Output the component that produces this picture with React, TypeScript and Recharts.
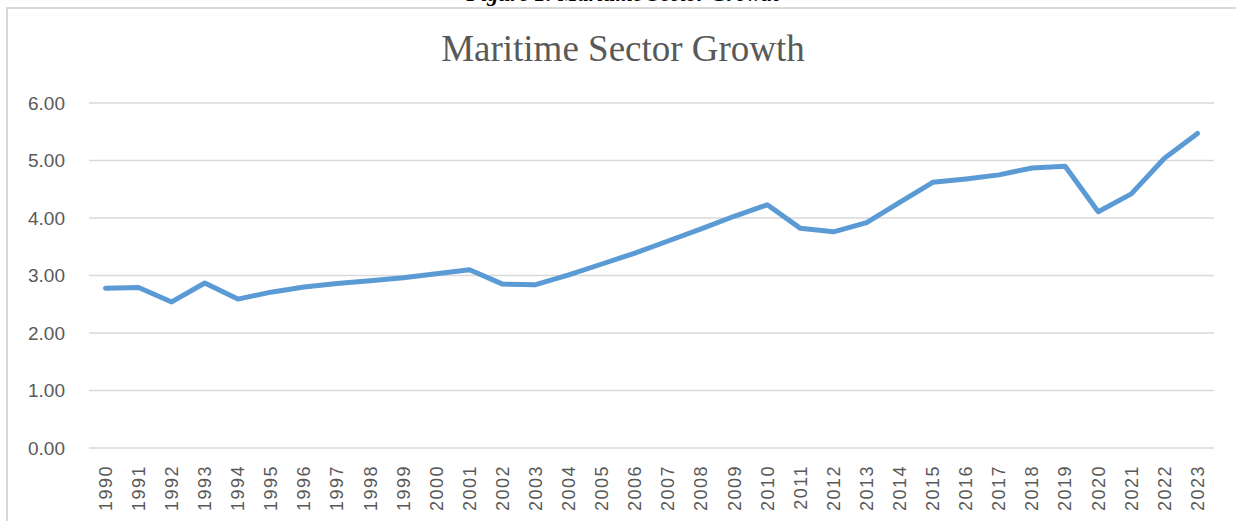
import React from 'react';
import { LineChart, Line, XAxis, YAxis, CartesianGrid } from 'recharts';

const years = [
  '1990', '1991', '1992', '1993', '1994', '1995', '1996', '1997', '1998', '1999',
  '2000', '2001', '2002', '2003', '2004', '2005', '2006', '2007', '2008', '2009',
  '2010', '2011', '2012', '2013', '2014', '2015', '2016', '2017', '2018', '2019',
  '2020', '2021', '2022', '2023',
];

const growth = [
  2.78, 2.79, 2.54, 2.87, 2.59, 2.71, 2.80, 2.86, 2.91, 2.96,
  3.03, 3.10, 2.85, 2.84, 3.01, 3.20, 3.39, 3.60, 3.81, 4.03,
  4.23, 3.82, 3.76, 3.92, 4.27, 4.62, 4.68, 4.75, 4.87, 4.90,
  4.11, 4.42, 5.04, 5.47,
];

const yTicks = [0, 1, 2, 3, 4, 5, 6];

const data = years.map((year, i) => ({ year, value: growth[i] }));

const labelColor = '#595959';
const axisFont = '"Liberation Sans", Arial, sans-serif';

const YTick = (props: any) => {
  const { y, payload } = props;
  return (
    <text x={65} y={y} dy="0.35em" textAnchor="end" fontSize={19} fill={labelColor} fontFamily={axisFont}>
      {Number(payload.value).toFixed(2)}
    </text>
  );
};

const XTick = (props: any) => {
  const { x, payload } = props;
  return (
    <text
      transform={`translate(${x},465) rotate(-90)`}
      dy="0.35em"
      textAnchor="end"
      fontSize={18}
      letterSpacing={1.5}
      fill={labelColor}
      fontFamily={axisFont}
    >
      {payload.value}
    </text>
  );
};

export default function App() {
  return (
    <div style={{ position: 'absolute', left: 0, top: 0, width: 1236, height: 521, overflow: 'hidden', background: '#fff' }}>
      <div
        style={{
          position: 'absolute', left: 6, top: 7, width: 1260, height: 540,
          border: '2px solid #d9d9d9', boxSizing: 'border-box',
        }}
      />
      <div
        style={{
          position: 'absolute', left: 0, top: -19, width: 1246, textAlign: 'center',
          fontFamily: '"Liberation Serif", "Times New Roman", serif', fontSize: 22, fontWeight: 'bold',
          fontStyle: 'italic', color: '#000',
        }}
      >
        Figure 1: Maritime Sector Growth
      </div>
      <div
        style={{
          position: 'absolute', left: 0, top: 27, width: 1246, textAlign: 'center',
          fontFamily: '"Liberation Serif", "Times New Roman", serif', fontSize: 37, color: labelColor,
        }}
      >
        Maritime Sector Growth
      </div>
      <div style={{ position: 'absolute', left: 0, top: 0 }}>
        <LineChart width={1236} height={521} data={data} margin={{ top: 103, right: 22, left: 0, bottom: 0 }}>
          <CartesianGrid vertical={false} stroke="#d9d9d9" strokeWidth={1.5} />
          <XAxis
            dataKey="year"
            interval={0}
            axisLine={false}
            tickLine={false}
            height={73}
            padding={{ left: 16.5, right: 16.5 }}
            tick={<XTick />}
          />
          <YAxis
            domain={[0, 6]}
            ticks={yTicks}
            axisLine={false}
            tickLine={false}
            width={89}
            tick={<YTick />}
          />
          <Line
            type="linear"
            dataKey="value"
            stroke="#5b9bd5"
            strokeWidth={5}
            strokeLinejoin="round"
            strokeLinecap="round"
            dot={false}
            activeDot={false}
            isAnimationActive={false}
          />
        </LineChart>
      </div>
    </div>
  );
}
